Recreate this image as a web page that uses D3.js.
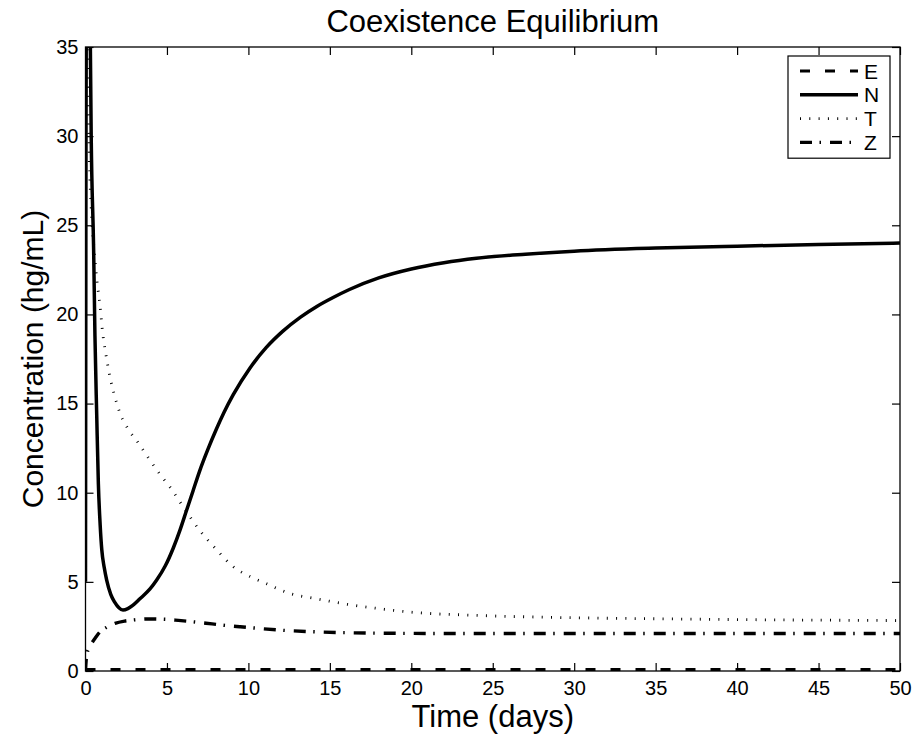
<!DOCTYPE html>
<html>
<head>
<meta charset="utf-8">
<script src="https://cdn.jsdelivr.net/npm/d3@7"></script>
<style>
  html, body { margin: 0; padding: 0; background: #fff; }
  svg { display: block; font-family: "Liberation Sans", Arial, Helvetica, sans-serif; }
</style>
</head>
<body>
<svg id="chart" width="914" height="736"></svg>
<script>
// Model output: concentrations over time (days)
const eTime = [0, 10, 20, 30, 40, 50];
const eValue = [0.08, 0.08, 0.08, 0.08, 0.08, 0.08];

const nTime = [0, 0.03, 0.08, 0.15, 0.25, 0.35, 0.5, 0.58, 0.69, 0.79, 0.9, 1.0, 1.15, 1.3, 1.55, 1.8, 2.05, 2.3, 2.6, 2.9, 3.34, 3.96, 4.37, 4.9, 5.39, 5.8, 6.2, 6.6, 7.0, 7.5, 8.05, 8.5, 9.07, 10.1, 11.1, 12.1, 13.2, 14.2, 15.2, 16.2, 18, 20, 22, 24, 27, 30, 35, 40, 45, 50];
const nValue = [5, 30, 48, 50, 40, 30, 23.6, 18.8, 14.3, 10.5, 8.2, 6.8, 5.8, 5.1, 4.3, 3.85, 3.55, 3.42, 3.5, 3.68, 4.05, 4.6, 5.1, 5.9, 6.9, 7.9, 9.0, 10.1, 11.2, 12.4, 13.6, 14.5, 15.5, 17.0, 18.15, 19.05, 19.85, 20.45, 20.95, 21.4, 22.05, 22.55, 22.9, 23.15, 23.38, 23.55, 23.72, 23.83, 23.92, 24.0];

const tTime = [0, 0.08, 0.2, 0.35, 0.54, 0.69, 0.89, 1.05, 1.3, 1.5, 1.77, 2.1, 2.6, 3.24, 3.9, 4.6, 5.2, 6.0, 7.0, 8.05, 9.07, 10.1, 11.1, 12.5, 14.2, 16, 18, 20, 24, 28, 32, 36, 42, 50];
const tValue = [50, 38, 30, 26, 23.5, 22.0, 20.5, 19.0, 17.5, 16.5, 15.5, 14.5, 13.6, 12.8, 11.9, 11.0, 10.3, 9.2, 7.9, 6.8, 5.85, 5.3, 4.9, 4.36, 4.05, 3.75, 3.5, 3.3, 3.12, 3.02, 2.96, 2.92, 2.87, 2.83];

const zTime = [0, 0.04, 0.1, 0.2, 0.38, 0.6, 0.89, 1.3, 1.81, 2.4, 2.93, 3.85, 4.88, 5.7, 6.5, 7.4, 8.36, 9.5, 10.5, 12, 14, 16, 18, 20, 25, 30, 40, 50];
const zValue = [0, 0.6, 1.0, 1.25, 1.55, 1.85, 2.2, 2.45, 2.67, 2.8, 2.86, 2.92, 2.9, 2.84, 2.77, 2.68, 2.58, 2.48, 2.4, 2.29, 2.2, 2.15, 2.12, 2.11, 2.1, 2.1, 2.1, 2.1];

const xTicks = [0, 5, 10, 15, 20, 25, 30, 35, 40, 45, 50];
const yTicks = [0, 5, 10, 15, 20, 25, 30, 35];
const seriesNames = ["E", "N", "T", "Z"];

const titleText = "Coexistence Equilibrium";
const xLabel = "Time (days)";
const yLabel = "Concentration (hg/mL)";

// Line styles for each series
const styles = {
  E: { width: 3.2, dash: "10,15" },
  N: { width: 3.5, dash: null },
  T: { width: 2.8, dash: "1,8.3" },
  Z: { width: 3.4, dash: "12,7.5,1.5,9" }
};

const series = [
  { name: "E", t: eTime, v: eValue },
  { name: "N", t: nTime, v: nValue },
  { name: "T", t: tTime, v: tValue },
  { name: "Z", t: zTime, v: zValue }
];

const svg = d3.select("#chart");
const margin = { left: 85.5, right: 14, top: 47, bottom: 65 };
const W = 914, H = 736;
const x = d3.scaleLinear().domain([0, 50]).range([margin.left, W - margin.right]);
const y = d3.scaleLinear().domain([0, 35]).range([H - margin.bottom, margin.top]);

svg.append("defs").append("clipPath").attr("id", "plotClip")
  .append("rect")
  .attr("x", x(0)).attr("y", y(35))
  .attr("width", x(50) - x(0)).attr("height", y(0) - y(35));

const line = d3.line()
  .x(d => x(d[0]))
  .y(d => y(d[1]))
  .curve(d3.curveMonotoneX);

const plot = svg.append("g").attr("clip-path", "url(#plotClip)");
series.forEach(s => {
  const st = styles[s.name];
  plot.append("path")
    .datum(s.t.map((t, i) => [t, s.v[i]]))
    .attr("fill", "none")
    .attr("stroke", "#000")
    .attr("stroke-width", st.width)
    .attr("stroke-dasharray", st.dash)
    .attr("d", line);
});

// Axes box with inward ticks on all four sides
const tickLen = 8;
const axisStyle = g => {
  g.select(".domain").remove();
  g.selectAll(".tick line").attr("stroke", "#000").attr("stroke-width", 1.2);
  g.selectAll(".tick text").attr("font-size", 20).attr("fill", "#000")
    .attr("font-family", "Liberation Sans, Arial, sans-serif");
};

svg.append("g").attr("transform", `translate(0,${y(0)})`)
  .call(d3.axisBottom(x).tickValues(xTicks).tickSize(-tickLen).tickPadding(10).tickFormat(d3.format("d")))
  .call(axisStyle);
svg.append("g").attr("transform", `translate(0,${y(35)})`)
  .call(d3.axisTop(x).tickValues(xTicks).tickSize(-tickLen).tickFormat(""))
  .call(axisStyle);
svg.append("g").attr("transform", `translate(${x(0)},0)`)
  .call(d3.axisLeft(y).tickValues(yTicks).tickSize(-tickLen).tickPadding(7).tickFormat(d3.format("d")))
  .call(axisStyle);
svg.append("g").attr("transform", `translate(${x(50)},0)`)
  .call(d3.axisRight(y).tickValues(yTicks).tickSize(-tickLen).tickFormat(""))
  .call(axisStyle);

svg.append("rect")
  .attr("x", x(0)).attr("y", y(35))
  .attr("width", x(50) - x(0)).attr("height", y(0) - y(35))
  .attr("fill", "none").attr("stroke", "#000").attr("stroke-width", 1.3);

// Titles
svg.append("text")
  .attr("x", (x(0) + x(50)) / 2).attr("y", 32)
  .attr("text-anchor", "middle").attr("font-size", 31).text(titleText);
svg.append("text")
  .attr("x", (x(0) + x(50)) / 2).attr("y", 727)
  .attr("text-anchor", "middle").attr("font-size", 31).text(xLabel);
svg.append("text")
  .attr("transform", `translate(43,${(y(0) + y(35)) / 2}) rotate(-90)`)
  .attr("text-anchor", "middle").attr("font-size", 30).text(yLabel);

// Legend
const lg = svg.append("g");
const lgX = 788, lgY = 56, lgW = 102, rowH = 23.8;
lg.append("rect")
  .attr("x", lgX).attr("y", lgY)
  .attr("width", lgW).attr("height", rowH * seriesNames.length + 7)
  .attr("fill", "#fff").attr("stroke", "#000").attr("stroke-width", 1.2);
seriesNames.forEach((name, i) => {
  const cy = lgY + 15 + i * rowH;
  const st = styles[name];
  lg.append("line")
    .attr("x1", lgX + 12).attr("x2", lgX + 70)
    .attr("y1", cy).attr("y2", cy)
    .attr("stroke", "#000").attr("stroke-width", st.width)
    .attr("stroke-dasharray", st.dash);
  lg.append("text")
    .attr("x", lgX + 76).attr("y", cy + 7.5)
    .attr("font-size", 21).text(name);
});
</script>
</body>
</html>
